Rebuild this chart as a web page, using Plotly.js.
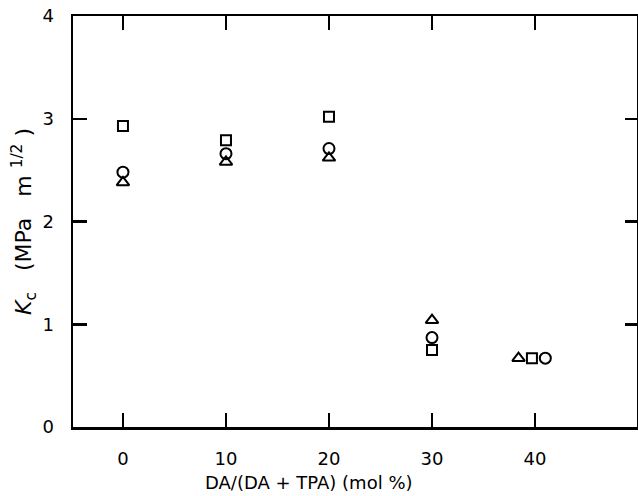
<!DOCTYPE html>
<html>
<head>
<meta charset="utf-8">
<script src="https://cdn.plot.ly/plotly-3.0.1.min.js"></script>
<style>html,body{margin:0;padding:0;background:#fff;}#chart{width:638px;height:496px;}</style>
</head>
<body>
<div id="chart"></div>
<script>
// Data
const squareX = [0, 10, 20, 30, 39.7];
const squareY = [2.93, 2.79, 3.02, 0.75, 0.67];
const circleX = [0, 10, 20, 30, 41.0];
const circleY = [2.48, 2.66, 2.71, 0.87, 0.67];
const triangleX = [0, 10, 20, 30, 38.4];
const triangleY = [2.38, 2.58, 2.62, 1.04, 0.67];
const xTicks = [0, 10, 20, 30, 40];
const yTicks = [0, 1, 2, 3, 4];
const xRange = [-4.85, 49.9];
const yRange = [0, 4];

const mk = (sym, size) => ({symbol: sym, size: size, color: '#000', line: {color: '#000', width: 2}});

const traces = [
  {x: squareX, y: squareY, mode: 'markers', type: 'scatter', marker: mk('square-open', 10), name: 'square'},
  {x: circleX, y: circleY, mode: 'markers', type: 'scatter', xaxis: 'x3', yaxis: 'y3', marker: mk('circle-open', 11), name: 'circle'},
  {x: triangleX, y: triangleY, mode: 'markers', type: 'scatter', xaxis: 'x2', yaxis: 'y2', marker: mk('triangle-up-open', 11), name: 'triangle'}
];

const fam = '"DejaVu Sans", "Liberation Sans", Arial, sans-serif';
const f = (s) => ({family: fam, size: s, color: '#000'});
const sp = '\u00a0';

// inner tick axes (one per side, no mirroring)
const tickAxis = (extra) => Object.assign({
  tickmode: 'array', ticks: 'inside', ticklen: 14, tickwidth: 2.5, tickcolor: '#000',
  showticklabels: false, showline: false, showgrid: false, zeroline: false
}, extra);

const layout = {
  width: 638, height: 496,
  margin: {l: 73, r: 1, t: 16, b: 69, pad: 0},
  paper_bgcolor: '#fff', plot_bgcolor: '#fff',
  showlegend: false,
  font: f(18),
  xaxis: {
    range: xRange, tickmode: 'array', tickvals: xTicks, ticktext: xTicks.map(String),
    ticks: 'outside', ticklen: 14, tickcolor: 'rgba(0,0,0,0)',
    showline: true, linewidth: 2.5, linecolor: '#000', mirror: true,
    showgrid: false, zeroline: false, tickfont: f(18)
  },
  yaxis: {
    range: yRange, tickmode: 'array', tickvals: yTicks, ticktext: yTicks.map(String),
    ticks: 'outside', ticklen: 13, tickcolor: 'rgba(0,0,0,0)',
    showline: true, linewidth: 2.5, linecolor: '#000', mirror: true,
    showgrid: false, zeroline: false, tickfont: f(18),
    title: {text: '<i>K</i><sub>c</sub>' + sp.repeat(3) + '(MPa' + sp.repeat(3) + 'm' + sp + '<sup>1/2</sup>' + sp + ')', font: f(22), standoff: 5}
  },
  xaxis2: tickAxis({overlaying: 'x', anchor: 'y2', side: 'bottom', range: xRange, tickvals: xTicks}),
  yaxis2: tickAxis({overlaying: 'y', anchor: 'x2', side: 'left', range: yRange, tickvals: yTicks}),
  xaxis3: tickAxis({overlaying: 'x', anchor: 'y3', side: 'top', range: xRange, tickvals: xTicks}),
  yaxis3: tickAxis({overlaying: 'y', anchor: 'x3', side: 'right', range: yRange, tickvals: yTicks, ticklen: 12}),
  annotations: [{
    text: 'DA/(DA + TPA) (mol %)', xref: 'paper', yref: 'paper',
    x: 0.418, y: -0.136, xanchor: 'center', yanchor: 'middle', showarrow: false, font: f(18)
  }]
};

Plotly.newPlot('chart', traces, layout, {displayModeBar: false, staticPlot: true});
</script>
</body>
</html>
